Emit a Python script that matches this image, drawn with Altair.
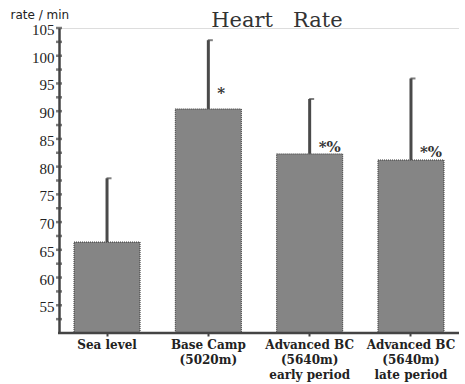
import altair as alt
import pandas as pd

categories = ["Sea level", "Base Camp|(5020m)", "Advanced BC|(5640m)|early period", "Advanced BC|(5640m)|late period"]
means = [66.4, 90.4, 82.3, 81.2]
upper = [77.9, 102.8, 92.2, 95.9]
sig_marks = ["", "*", "*%", "*%"]
sig_y = [66.4, 93.2, 83.6, 82.6]
y_ticks = [50 + 2.5 * i for i in range(23)]
title_text = ["Heart\u00a0\u00a0\u00a0Rate"]

df = pd.DataFrame({"cat": categories, "mean": means, "upper": upper,
                   "sig": sig_marks, "sig_y": sig_y})

xaxis = alt.Axis(title=None, labelAngle=0, domain=False,
                 labelExpr="split(datum.label, '|')",
                 labelFont="DejaVu Serif", labelFontWeight="bold",
                 labelFontSize=12, labelColor="#222",
                 labelLineHeight=15, labelPadding=3,
                 tickSize=3, tickWidth=2, tickColor="#444")
xscale = alt.Scale(paddingInner=0.348, paddingOuter=0.148)
yscale = alt.Scale(domain=[50, 105], nice=False, zero=False)
yaxis = alt.Axis(values=y_ticks, labelOverlap=False, labelFlush=False,
                 labelExpr="datum.value % 5 == 0 && datum.value > 50 ? datum.label : ''",
                 labelFont="Liberation Serif", labelFontSize=15, labelOffset=1.5,
                 labelColor="#222", labelPadding=5, ticks=False,
                 domainWidth=2.5, domainColor="#444", grid=False,
                 title="rate / min", titleAngle=0, titleAlign="left",
                 titleBaseline="alphabetic", titleX=-49, titleY=-10,
                 titleFont="DejaVu Sans", titleFontSize=12,
                 titleFontWeight="normal", titleColor="#222")


def X():
    return alt.X("cat:N", sort=categories, scale=xscale, axis=xaxis)


def Y(field):
    return alt.Y(field, type="quantitative", scale=yscale, axis=yaxis)


base = alt.Chart(df)

bars = base.mark_bar(color="#858585", stroke="#333", strokeWidth=1,
                     strokeDash=[1, 1]).encode(
    x=X(), y=Y("mean"), y2=alt.datum(50))

err = base.mark_rule(color="#4a4a4a", strokeWidth=3).encode(
    x=X(), y=Y("mean"), y2="upper:Q")

cap = base.mark_tick(color="#4a4a4a", thickness=2, size=5, xOffset=2,
                     orient="horizontal").encode(x=X(), y=Y("upper"))

sig = base.mark_text(align="left", baseline="middle", dx=9,
                     font="DejaVu Serif", fontSize=15, fontWeight="bold",
                     color="#333").encode(x=X(), y=Y("sig_y"), text="sig:N")

baseline = alt.Chart(pd.DataFrame({"b": [50]})).mark_rule(
    color="#444", strokeWidth=2.5).encode(
    x=alt.value(-1), x2=alt.value(410), y=Y("b"))

yt = alt.Chart(pd.DataFrame({"v": y_ticks[1:]})).mark_tick(
    color="#444", thickness=2.5, size=6, orient="horizontal").encode(
    x=alt.value(0), y=Y("v"))

title = alt.Chart(pd.DataFrame({"t": title_text})).mark_text(
    align="center", baseline="alphabetic", font="DejaVu Serif",
    fontSize=21, color="#333").encode(
    x=alt.value(218), y=alt.value(-1), text="t:N")

chart = alt.layer(bars, err, cap, sig, baseline, yt, title).properties(
    width=400, height=305,
    padding={"left": 59, "top": 28, "right": 0, "bottom": 51},
    autosize=alt.AutoSizeParams(type="none"),
).configure_view(stroke=None).configure(background="white")

chart.save("out.html", embed_options={"renderer": "svg", "actions": False})
